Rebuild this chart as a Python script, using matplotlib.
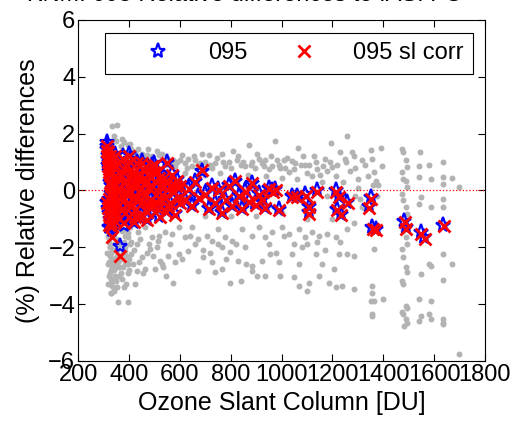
import numpy as np
import matplotlib.pyplot as plt

plt.rcParams['font.family'] = ['Liberation Sans', 'DejaVu Sans']

# --- grey background points (all retrievals) ---
grey_x = [
    318, 322, 326, 330, 334, 338, 342, 346, 350, 354, 330, 340, 320, 324, 328, 332, 336, 345,
    352, 358, 362, 368, 372, 376, 380, 385, 390, 395, 400, 405, 358, 397, 315, 325, 335, 345,
    355, 365, 375, 385, 395, 405, 318, 322, 312, 326, 316, 340, 348, 360, 335, 328,
    332, 355, 340, 350, 371, 381, 397, 410, 434, 450, 476, 489, 509, 520, 548, 565, 575, 601,
    621, 634, 647, 660, 673, 687, 700, 713, 726, 739, 765, 779, 792, 811, 825, 842, 858, 873,
    884, 897, 910, 923, 936, 950, 963, 973, 982, 996, 1009, 1015, 1028, 1042, 1048, 1064, 1075,
    1094, 1101, 1121, 1127, 1140, 1150, 1170, 1180, 1193, 1199, 1213, 1230, 1248, 1259, 1270,
    1278, 1285, 1300, 1318, 1351, 1357, 1364, 1370, 1390, 1397, 1380,
    1299, 1310, 1325, 1290, 1180, 1160, 1060, 1000, 940, 870, 760, 700, 1240,
    420, 460, 500, 540, 580, 620, 700, 800, 900, 1000, 1100, 1200,
    1473, 1476, 1489, 1495, 1473, 1476, 1489, 1495, 1473, 1476, 1489, 1495, 1473, 1476, 1489,
    1495, 1473, 1476, 1489, 1495, 1473, 1476, 1489, 1495, 1473, 1476, 1489, 1495, 1480,
    1544, 1541, 1581, 1541, 1587, 1548, 1541, 1587, 1581, 1587, 1548, 1541, 1587, 1581, 1548,
    1541, 1587,
    1637, 1637, 1637, 1637, 1637, 1637, 1637, 1637, 1637, 1637, 1669, 1669, 1699, 1699,
    371, 397, 437, 463, 489, 516, 542, 568, 595, 621, 647, 673, 706, 726, 752, 779, 805, 844,
    884, 910, 936, 963, 1002, 1028, 1068, 1094, 1121, 1147, 1180, 1213, 1259, 1285, 1318,
    358, 384, 410, 450, 483, 522, 555, 595, 634, 660, 693, 726, 765, 798, 830, 858, 884, 923,
    956, 989, 1042, 1068, 1101, 1134, 1160, 1206, 1226, 1259, 1285, 1364,
    397, 430, 463, 502, 529, 575, 673, 739, 765, 798, 842, 884, 904, 936, 996, 1048, 1068,
    1101, 1107, 1147, 1186, 1213, 1239, 1285, 1357, 1357, 1399, 1351, 1364, 1355, 1357,
    320, 325, 330, 335, 340, 345, 350, 355, 360, 365, 370, 375, 380, 385, 390, 400, 410, 415,
    420, 425, 430, 440, 445, 455, 470, 480, 495, 510, 520, 535, 545, 560, 580, 610, 640, 690,
    720, 750, 780, 820, 860, 950, 980, 1010, 1050, 1080, 1140, 1170, 1230,
    370, 390, 405, 425, 445, 470, 495, 530, 555, 590, 610, 630, 655, 680, 720, 745, 770, 800,
    830, 850, 880, 905, 930, 960, 990, 1020, 1055, 1085, 1110, 1135, 1165, 1190, 1220, 1255,
    1290, 1330, 1340, 1360, 1375,
]
grey_y = [
    -1.6, -1.8, -2.0, -2.2, -2.4, -2.6, -2.8, -3.0, -3.2, -3.4, -3.6, -3.55, -2.5, -2.9, -3.1,
    -2.7, -2.1, -1.9, -2.3, -2.5, -2.7, -2.9, -3.1, -2.2, -1.8, -2.6, -3.3, -2.9, -2.4, -1.9,
    -3.94, -3.94, -1.3, -1.4, -1.5, -1.45, -1.3, -1.2, -1.4, -1.6, -1.5, -1.3, -3.3, -3.0,
    -2.2, -2.0, -2.6, -3.1, -2.7, -2.3, -3.35, -3.6,
    2.27, 2.32, 1.9, 1.75, 1.8, 1.71, 1.59, 1.45, 1.47, 1.3, 1.47, 1.2, 1.38, 1.25, 1.15,
    1.0, 1.08, 1.08, 0.95, 1.12, 0.85, 1.06, 0.9, 1.29, 1.0, 1.24, 0.8, 0.95, 1.29, 0.85,
    1.0, 1.38, 1.06, 0.9, 0.85, 1.59, 1.0, 0.8, 1.11, 0.95, 1.06, 0.75, 0.85, 1.74, 1.06,
    0.8, 1.06, 0.8, 0.65, 1.04, 0.75, 1.51, 0.9, 0.88, 0.6, 0.5, 1.2, 0.75, 0.55, 1.11, 0.7,
    1.67, 0.82, 0.5, 1.35, 1.11, 1.91, 0.7, 1.35, 1.2, 0.4, 1.08, 1.41, 1.12, 0.65, 0.35,
    1.51, 0.85, 0.2,
    0.1, -0.3, -0.6, -0.2, -0.2, 0.3, 0.4, 0.45, 0.5, 0.55, 0.6, 0.55, 0.3,
    1.2, 1.1, 0.95, 0.9, 0.85, 0.6, -0.9, -0.9, -0.9, -0.8, -1.0, -1.0,
    1.47, 1.35, 1.06, 0.82, 0.65, 0.41, 0.35, 0.12, -0.12, -0.35, -0.59, -0.82, -1.06,
    -1.41, -1.65, -1.88, -2.06, -2.35, -2.71, -2.88, -3.18, -3.29, -4.06, -4.12, -4.29,
    -4.35, -4.53, -4.65, -4.76,
    1.35, 0.85, 0.88, 0.47, 0.41, -0.24, -0.47, -0.59, -2.59, -2.65, -2.94, -3.82, -3.88,
    -4.35, -4.41, -4.59, -4.53,
    1.0, 0.47, 0.24, -0.29, -0.59, -2.24, -3.15, -4.53, -4.65, -4.71, 0.45, -2.59, 0.14, -5.74,
    -1.41, -1.65, -1.47, -1.29, -1.65, -1.76, -1.47, -1.53, -1.29, -1.65, -1.29, -1.71,
    -1.59, -1.76, -1.35, -1.65, -1.76, -1.35, -1.59, -1.29, -1.65, -1.47, -1.29, -1.53,
    -1.35, -1.65, -1.47, -1.59, -1.53, -1.65, -1.35, -1.15, -0.59,
    -2.0, -2.12, -2.24, -2.35, -2.06, -2.47, -2.29, -2.24, -2.12, -1.88, -2.35, -2.53, -2.0,
    -2.18, -2.47, -2.0, -2.65, -2.47, -2.24, -2.53, -2.24, -2.59, -1.88, -2.24, -2.59, -2.76,
    -2.24, -2.24, -2.29, -2.06,
    -2.59, -2.82, -2.76, -2.76, -2.59, -3.24, -2.82, -2.88, -2.76, -3.24, -3.18, -2.82,
    -3.0, -3.0, -3.0, -3.06, -3.35, -3.53, -3.24, -3.0, -3.24, -3.41, -3.35, -3.47, -3.35,
    -3.59, -3.82, -3.88, -3.88, -4.35, -4.41,
    -1.7, -2.3, -2.8, -3.2, -2.4, -2.6, -1.7, -2.1, -3.0, -1.9, -2.4, -2.7, -3.4, -2.0, -2.3,
    -2.8, -1.8, -2.6, -2.1, -3.3, -1.9, -2.5, -1.7, -2.9, -2.2, -1.9, -2.3, -2.0, -1.6, -2.7,
    -3.0, -1.9, -2.5, -2.4, -1.6, -2.1, -2.2, -1.9, -2.4, -1.9, -2.6, -1.9, -2.2, -1.6, -1.9,
    -2.0, -1.8, -2.1, -1.8,
    1.55, 1.35, 1.65, 1.35, 1.2, 1.25, 1.05, 1.3, 0.95, 1.0, 1.25, 0.8, 1.2, 0.95, 0.9, 1.15,
    1.0, 0.8, 1.2, 1.0, 0.9, 1.3, 0.85, 1.2, 0.9, 1.15, 0.95, 1.2, 0.9, 1.0, 0.85, 1.0, 0.9,
    1.0, 0.8, 0.9, 0.5, 0.2, -0.2,
]

# --- version 095 ---
v095_x = [
    312, 315, 318, 320, 322, 325, 328, 330, 333, 336, 312, 316, 320, 324, 328, 332, 314, 318,
    322, 326, 330, 334, 338, 342,
    345, 350, 355, 360, 365, 364, 370, 375, 380, 385, 390, 395, 400, 405, 410, 415, 420, 425,
    430, 435, 440, 445, 450, 455, 460, 465, 470, 475, 480, 485, 490, 495, 500, 505, 510, 515,
    520, 525, 548, 535, 540, 545, 550, 560, 570, 575, 580, 590, 595,
    601, 620, 634, 647, 660, 673, 687, 700, 713, 726, 739, 752, 765, 779, 792, 805, 818, 831,
    844, 858, 871, 884, 897, 910, 923, 936, 950,
    963, 976, 989, 1042, 1061, 1094, 1107, 1107, 1140, 1213, 1226, 1219, 1232, 1259, 1351,
    1344, 1357, 1370, 1482, 1489, 1548, 1561, 1637,
    318, 322, 326, 330, 335, 340, 345, 350, 355, 360, 368, 372, 378, 383, 388, 393, 398, 403,
    408, 418, 423, 428, 438, 443, 448, 453, 458, 468, 478, 488, 498, 508, 518, 528, 538, 553,
    563, 583, 600, 320, 380, 420, 470, 520, 400, 450, 500,
]
v095_y = [
    1.7, 1.45, 1.25, 1.0, 0.8, 0.6, 0.4, 0.2, 0.0, -0.2, -0.4, -0.6, -0.8, -1.0, -1.2, -1.4,
    1.55, 1.1, 0.7, 0.3, -0.1, -0.5, -0.9, -1.1,
    1.3, 0.9, 0.5, 0.1, -0.3, -1.96, -0.7, 1.2, 0.8, 0.4, 0.0, -0.4, -0.9, 1.1, 0.6, 0.2,
    -0.2, -0.6, 1.0, 0.5, -0.9, 0.1, -0.4, 0.8, 0.3, -0.1, -0.7, 0.6, 0.1, -0.3, 0.9, -0.5,
    0.4, -0.1, 0.7, -0.6, 0.2, -0.3, 1.0, 0.5, -0.2, -0.7, 0.3, -0.4, 0.6, 0.0, -0.8, 0.4,
    -0.2,
    0.2, -0.3, 0.1, -0.5, 0.35, -0.2, 0.7, -0.1, -0.6, 0.15, -0.4, 0.05, -0.75, -0.3, 0.2,
    -0.5, 0.35, -0.15, -0.6, 0.0, -0.35, 0.25, -0.45, -0.1, -0.3, -0.59, 0.1,
    0.0, 0.06, -0.65, -0.18, -0.18, -0.12, -0.53, -0.76, 0.0, 0.0, -0.18, -0.65, -0.82,
    -0.41, -0.24, -0.53, -1.29, -1.35, -1.06, -1.29, -1.47, -1.65, -1.2,
    0.9, -0.3, 1.3, -0.7, 0.5, -0.4, 0.2, -0.9, 1.0, -0.5, 0.6, -0.2, 0.3, -0.8, 0.9, -0.1,
    0.5, -0.5, 0.0, 0.7, -0.9, 0.3, -0.3, 0.6, -0.8, 0.0, 0.5, 0.3, -0.5, 0.2, 0.7, -0.4,
    0.5, -0.1, 0.2, -0.5, 0.2, 0.2, -0.4, -1.3, -1.2, -1.1, -1.0, -0.9, 1.3, 1.05, 0.95,
]

# --- version 095 with slant correction ---
sl_x = [
    314, 316, 318, 321, 323, 326, 329, 331, 334, 337, 313, 317, 321, 325, 329, 332, 315, 319,
    323, 327, 331, 335, 339, 343,
    346, 351, 356, 361, 366, 366, 371, 376, 381, 386, 391, 396, 401, 406, 411, 416, 421, 426,
    431, 436, 441, 446, 451, 456, 461, 466, 471, 476, 481, 486, 491, 496, 501, 506, 511, 516,
    521, 526, 548, 536, 541, 546, 551, 561, 571, 576, 581, 591, 596,
    602, 621, 635, 648, 661, 674, 688, 701, 714, 727, 740, 753, 766, 780, 793, 806, 819, 832,
    845, 859, 872, 885, 898, 911, 924, 937, 951,
    965, 977, 991, 1043, 1062, 1096, 1108, 1109, 1141, 1214, 1228, 1220, 1234, 1261, 1352,
    1346, 1359, 1372, 1484, 1491, 1550, 1563, 1638, 332,
    319, 323, 327, 331, 336, 341, 346, 351, 356, 361, 369, 373, 379, 384, 389, 394, 399, 404,
    409, 419, 424, 429, 439, 444, 449, 454, 459, 469, 479, 489, 499, 509, 519, 529, 539, 554,
    564, 584, 601, 321, 381, 421, 471, 521, 401, 451, 501,
]
sl_y = [
    1.55, 1.35, 1.15, 0.95, 0.75, 0.55, 0.35, 0.15, -0.05, -0.25, -0.45, -0.6, -0.75, -0.95,
    -1.1, -1.25, 1.4, 1.0, 0.65, 0.25, -0.15, -0.5, -0.85, -1.05,
    1.2, 0.85, 0.45, 0.05, -0.3, -2.29, -0.7, 1.1, 0.75, 0.35, -0.05, -0.45, -0.95, 1.0,
    0.55, 0.15, -0.25, -0.65, 0.95, 0.45, -0.95, 0.05, -0.45, 0.75, 0.25, -0.15, -0.75,
    0.55, 0.05, -0.35, 0.85, -0.55, 0.35, -0.15, 0.65, -0.65, 0.15, -0.35, 0.95, 0.45,
    -0.25, -0.75, 0.25, -0.45, 0.55, -0.05, -0.85, 0.35, -0.25,
    0.15, -0.35, 0.05, -0.55, 0.3, -0.25, 0.71, -0.15, -0.65, 0.1, -0.45, 0.0, -0.8, -0.35,
    0.15, -0.55, 0.35, -0.2, -0.65, -0.05, -0.4, 0.25, -0.5, -0.15, -0.35, -0.62, 0.05,
    -0.05, 0.0, -0.7, -0.22, -0.22, -0.18, -0.58, -0.82, -0.05, -0.05, -0.22, -0.7, -0.88,
    -0.45, -0.3, -0.6, -1.35, -1.38, -1.12, -1.35, -1.52, -1.7, -1.25, -1.65,
    0.85, -0.3, 1.2, -0.7, 0.45, -0.4, 0.15, -0.9, 0.95, -0.5, 0.55, -0.2, 0.25, -0.8, 0.85,
    -0.15, 0.45, -0.55, -0.05, 0.65, -0.95, 0.25, -0.35, 0.55, -0.85, -0.05, 0.45, 0.25,
    -0.55, 0.15, 0.65, -0.45, 0.45, -0.15, 0.15, -0.55, 0.15, 0.15, -0.45, -1.2, -1.15,
    -1.1, -1.05, -0.95, 1.2, 0.95, 0.9,
]

fig = plt.figure(figsize=(5.17, 4.30), dpi=100)
ax = fig.add_axes([0.151, 0.1605, 0.787, 0.793])

ax.plot(grey_x, grey_y, 'o', color='#b3b3b3', markersize=4.3, markeredgewidth=0,
        label='_nolegend_')
ax.axhline(0, color='red', linestyle=':', linewidth=0.9)
ax.plot(v095_x, v095_y, '*', markerfacecolor='none', markeredgecolor='blue',
        markersize=11, markeredgewidth=1.6, label='095')
ax.plot(sl_x, sl_y, 'x', color='red', markersize=9, markeredgewidth=2, label='095 sl corr')

fs = 17
ax.set_xlim(200, 1800)
ax.set_ylim(-6, 6)
ax.set_xticks(np.arange(200, 1801, 200))
ax.set_yticks(np.arange(-6, 7, 2))
ax.tick_params(direction='in', top=True, right=True, labelsize=fs, length=5, pad=2)
ax.set_xlabel('Ozone Slant Column [DU]', fontsize=fs + 1, labelpad=4)
ax.set_ylabel('(%) Relative differences', fontsize=fs + 1, labelpad=6)

leg = ax.legend(loc='upper left', bbox_to_anchor=(0.066, 0.962), ncol=2, fontsize=fs,
                fancybox=False, edgecolor='k', framealpha=1, borderaxespad=0,
                borderpad=0.4, handlelength=3.7, handletextpad=0.25, columnspacing=0.55)
leg.get_frame().set_linewidth(0.8)

fig.text(0.052, 0.986, 'KNMI 095 Relative differences to IASI FO', fontsize=fs, va='bottom')

fig.savefig('out.png', dpi=100)
